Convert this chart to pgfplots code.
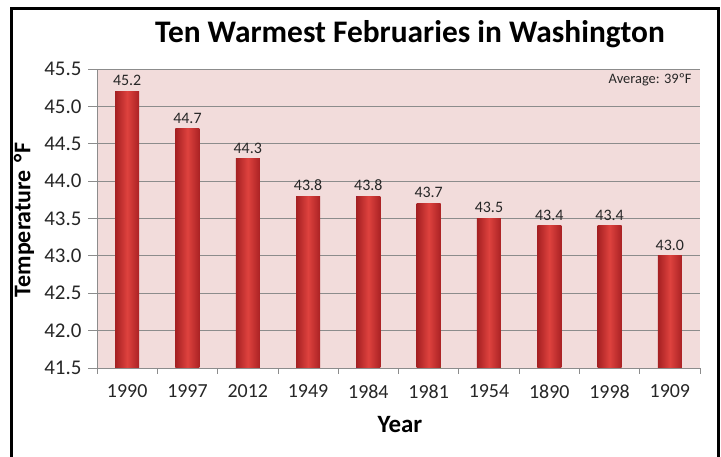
\documentclass[border=0pt]{standalone}
\usepackage{fontspec}
\setmainfont{Carlito}
\usepackage{pgfplots}
\pgfplotsset{compat=1.18}
\definecolor{pinkbg}{RGB}{242,220,219}
\definecolor{gridgray}{RGB}{140,140,140}
\definecolor{barL}{RGB}{165,32,34}
\definecolor{barM}{RGB}{222,66,62}
\definecolor{barR}{RGB}{170,34,36}
\begin{document}
\begin{tikzpicture}[x=1bp,y=1bp]
\begin{axis}[
  at={(97bp,89bp)}, anchor=south west,
  scale only axis, width=603bp, height=299bp,
  xmin=-0.5, xmax=9.5, ymin=41.5, ymax=45.5,
  axis x line*=bottom, axis y line*=left,
  axis line style={gridgray, line width=0.8pt},
  axis background/.style={fill=pinkbg},
  ytick={41.5,42,...,45.5},
  yticklabel style={/pgf/number format/fixed, /pgf/number format/fixed zerofill, /pgf/number format/precision=1},
  /pgf/number format/assume math mode=true,
  ymajorgrids, grid style={gridgray, line width=0.8pt},
  xtick={0,...,9},
  xticklabels={1990,1997,2012,1949,1984,1981,1954,1890,1998,1909},
  minor xtick={-0.5,0.5,...,9.5},
  tick align=outside,
  major tick length=9bp, minor tick length=6bp,
  x tick style={draw=none},
  minor x tick style={draw=gridgray, line width=0.8pt},
  y tick style={gridgray, line width=0.8pt},
  tick label style={text=black!85},
  xticklabel style={font=\fontsize{20}{24}\selectfont, yshift=-4bp},
  yticklabel style={font=\fontsize{21}{24}\selectfont, xshift=-3bp},
  ybar, bar width=24bp, bar shift=0pt,
  nodes near coords,
  nodes near coords style={font=\fontsize{16}{19}\selectfont, text=black!85, /pgf/number format/fixed, /pgf/number format/fixed zerofill, /pgf/number format/precision=1, yshift=2bp},
  every axis plot/.append style={draw=none, left color=barL, right color=barR, middle color=barM},
]
\addplot coordinates {(0,45.2)};
\addplot coordinates {(1,44.7)};
\addplot coordinates {(2,44.3)};
\addplot coordinates {(3,43.8)};
\addplot coordinates {(4,43.8)};
\addplot coordinates {(5,43.7)};
\addplot coordinates {(6,43.5)};
\addplot coordinates {(7,43.4)};
\addplot coordinates {(8,43.4)};
\addplot coordinates {(9,43.0)};
\end{axis}
\node[font=\fontsize{31.5}{34}\selectfont\bfseries] at (410,423) {Ten Warmest Februaries in Washington};
\node[font=\fontsize{24}{28}\selectfont\bfseries, rotate=90] at (24,237) {Temperature\,\,°F};
\node[font=\fontsize{25}{28}\selectfont\bfseries] at (400,32) {Year};
\node[font=\fontsize{14.5}{17}\selectfont, text=black!85, anchor=east] at (695,377) {Average: 39ºF};
\draw[line width=3bp] (11,0) -- (11,448) -- (718,448) -- (718,0);
\pgfresetboundingbox
\useasboundingbox (0,0) rectangle (721,457);
\end{tikzpicture}
\end{document}
